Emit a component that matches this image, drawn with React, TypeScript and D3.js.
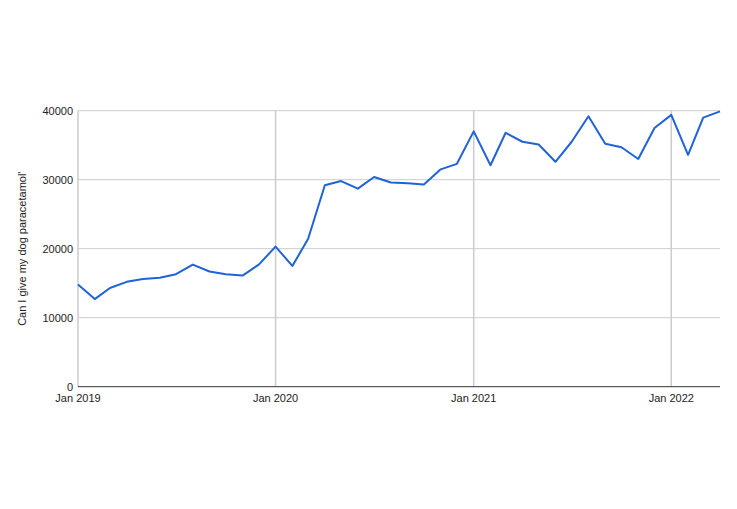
import React from "react";
import * as d3 from "d3";

const startYear = 2019;
const startMonth = 0;
const values: number[] = [
  14800, 12700, 14300, 15200, 15600, 15800, 16300, 17700, 16700, 16300, 16100, 17700,
  20300, 17500, 21400, 29200, 29800, 28700, 30400, 29600, 29500, 29300, 31500, 32300,
  37000, 32100, 36800, 35500, 35100, 32600, 35500, 39200, 35200, 34700, 33000, 37500,
  39400, 33600, 39000, 39900,
];
const yTicks: number[] = [0, 10000, 20000, 30000, 40000];
const xTickYears: number[] = [2019, 2020, 2021, 2022];
const yTitle = "Can I give my dog paracetamol'";

const W = 737;
const H = 509;
const M = { left: 78, right: 17, top: 110.7, bottom: 122.3 };

export default function App() {
  const dates = values.map((_, i) => new Date(startYear, startMonth + i, 1));
  const data = values.map((v, i) => ({ d: dates[i], v }));
  const x = d3
    .scaleTime()
    .domain([dates[0], dates[dates.length - 1]])
    .range([M.left, W - M.right]);
  const y = d3.scaleLinear().domain([0, 40000]).range([H - M.bottom, M.top]);
  const line = d3
    .line<{ d: Date; v: number }>()
    .x((p) => x(p.d))
    .y((p) => y(p.v));
  const fmt = d3.timeFormat("%b %Y");
  const font = "Arial, 'Liberation Sans', sans-serif";
  const y0 = y(0);
  return (
    <svg
      width={W}
      height={H}
      style={{ position: "absolute", left: 0, top: 0, background: "#fff" }}
    >
      {yTicks.map((t) => (
        <g key={"y" + t}>
          {t > 0 && (
            <line x1={M.left} x2={W - M.right} y1={y(t)} y2={y(t)} stroke="#cccccc" strokeWidth={1} />
          )}
          <text
            x={73}
            y={y(t)}
            dy="0.35em"
            textAnchor="end"
            fontFamily={font}
            fontSize={11}
            fill="#222"
          >
            {t}
          </text>
        </g>
      ))}
      {xTickYears.map((yr) => {
        const d = new Date(yr, 0, 1);
        const xx = x(d);
        return (
          <g key={"x" + yr}>
            <line x1={xx} x2={xx} y1={M.top} y2={y0} stroke="#cccccc" strokeWidth={1.5} />
            <text
              x={xx}
              y={401.5}
              textAnchor="middle"
              fontFamily={font}
              fontSize={11}
              fill="#222"
            >
              {fmt(d)}
            </text>
          </g>
        );
      })}
      <line x1={M.left} x2={W - M.right} y1={y0} y2={y0} stroke="#333" strokeWidth={1} />
      <path d={line(data) || ""} fill="none" stroke="#1f63d8" strokeWidth={2} strokeLinejoin="round" />
      <text
        transform={`translate(26, ${(M.top + y0) / 2}) rotate(-90)`}
        textAnchor="middle"
        fontFamily={font}
        fontSize={11}
        fill="#222"
      >
        {yTitle}
      </text>
    </svg>
  );
}
